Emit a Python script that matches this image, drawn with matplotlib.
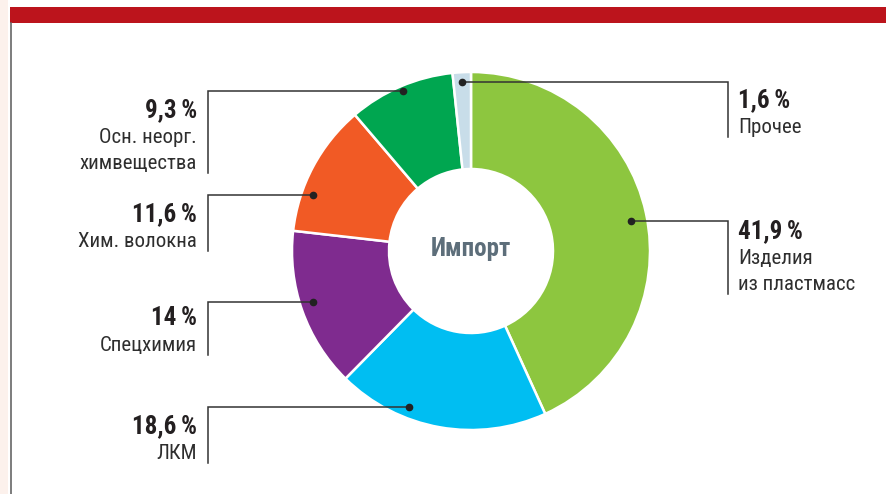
import numpy as np
import matplotlib
matplotlib.use('Agg')
import matplotlib.pyplot as plt
from matplotlib.patches import Rectangle

plt.rcParams['font.family'] = ['Roboto Condensed', 'PT Sans Narrow', 'DejaVu Sans']

# data (import structure, %)
shares = [41.9, 18.6, 14, 11.6, 9.3, 1.6]
pct_labels = ['41,9\u2009%', '18,6\u2009%', '14\u2009%', '11,6\u2009%', '9,3\u2009%', '1,6\u2009%']
names = [['Изделия', 'из пластмасс'], ['ЛКМ'], ['Спецхимия'],
         ['Хим. волокна'], ['Осн. неорг.', 'химвещества'], ['Прочее']]
colors = ['#8dc63f', '#00bef2', '#7f2b8f', '#f15a25', '#00a650', '#c8dde9']
center_title = 'Импорт'

# layout: side, dot position inside wedge (fraction of span, fraction of radius), text offset
layout = [('right', 0.51, 0.91, 17), ('left', 0.67, 0.94, 26), ('left', 0.53, 0.93, 23),
          ('left', 0.30, 0.935, 26), ('left', 0.50, 0.97, 26), ('right', 0.50, 0.945, 25)]

W, H = 887, 494
cx, cy, R, ring = 471, H - 251, 179, 97
left_x, right_x = 208, 728
ink = '#231f20'

fig = plt.figure(figsize=(W / 100, H / 100), dpi=100)
ax = fig.add_axes([0, 0, 1, 1])

ax.pie(shares, colors=colors, startangle=90, counterclock=False, radius=R,
       center=(cx, cy), wedgeprops=dict(width=ring, edgecolor='white', linewidth=1.8))
ax.set_xlim(0, W)
ax.set_ylim(0, H)
ax.axis('off')

# frame decoration
ax.add_patch(Rectangle((0, 0), 8, H, color='#fcf1ec', lw=0, zorder=0))
ax.add_patch(Rectangle((10, H - 23), W - 10, 16, color='#bc141c', lw=0))
ax.plot([11, 11], [0, H - 23], color='#666666', lw=1.2)

ax.text(cx, cy + 2, center_title, ha='center', va='center', fontsize=18,
        fontweight='bold', color='#5d6e7a')

total = sum(shares)
cum = np.concatenate([[0], np.cumsum(shares)]) / total * 360
for i, (side, frac, rf, dy) in enumerate(layout):
    a = np.radians(cum[i] + frac * (cum[i + 1] - cum[i]))
    dx_, dy_ = cx + rf * R * np.sin(a), cy + rf * R * np.cos(a)
    lx = right_x if side == 'right' else left_x
    base = dy_ - dy
    lines_y = [base - 26 * k for k in range(len(names[i]) + 1)]
    bottom = lines_y[-1] - 4
    ax.plot([dx_, lx, lx], [dy_, dy_, bottom], color='#333333', lw=1.1,
            solid_joinstyle='miter', zorder=5)
    ax.plot(dx_, dy_, 'o', color='#222222', ms=4.5, zorder=6)
    if side == 'right':
        tx, ha = lx + 10, 'left'
    else:
        tx, ha = lx - 11, 'right'
    ax.text(tx, lines_y[0], pct_labels[i], ha=ha, va='baseline', fontsize=18,
            fontweight='bold', color=ink)
    for k, nm in enumerate(names[i]):
        ax.text(tx, lines_y[k + 1], nm, ha=ha, va='baseline', fontsize=15, color='#2e2e2e')

fig.savefig('out.png', dpi=100)
